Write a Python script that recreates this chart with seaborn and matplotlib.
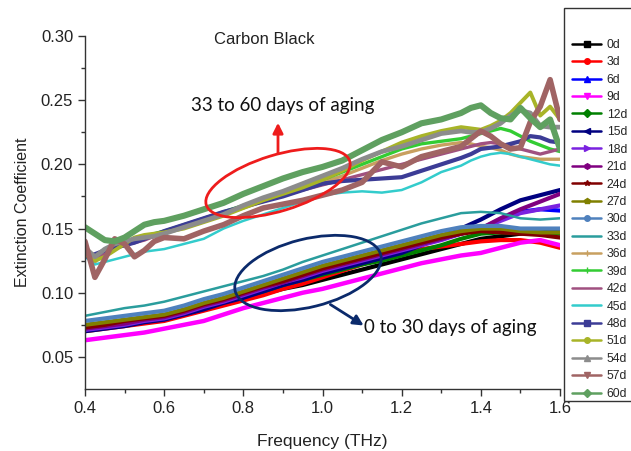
import numpy as np
import pandas as pd
import seaborn as sns
import matplotlib
matplotlib.use("Agg")
import matplotlib.pyplot as plt
from matplotlib.patches import Ellipse, Rectangle
from matplotlib.lines import Line2D

# ---------------- data ----------------
freq_low = [0.40, 0.45, 0.50, 0.55, 0.60, 0.65, 0.70, 0.75, 0.80, 0.85, 0.90, 0.95,
            1.00, 1.05, 1.10, 1.15, 1.20, 1.25, 1.30, 1.35, 1.40, 1.45, 1.50, 1.55, 1.60]

ext_0d = [0.072, 0.074, 0.076, 0.078, 0.080, 0.084, 0.087, 0.091, 0.095, 0.099, 0.103, 0.106,
          0.110, 0.114, 0.118, 0.122, 0.126, 0.130, 0.134, 0.138, 0.142, 0.144, 0.146, 0.147, 0.148]
ext_3d = [0.070, 0.072, 0.074, 0.076, 0.078, 0.082, 0.086, 0.090, 0.094, 0.098, 0.103, 0.107,
          0.112, 0.117, 0.122, 0.127, 0.132, 0.134, 0.136, 0.138, 0.140, 0.141, 0.141, 0.139, 0.135]
ext_6d = [0.073, 0.075, 0.077, 0.079, 0.081, 0.085, 0.089, 0.094, 0.098, 0.103, 0.107, 0.112,
          0.116, 0.121, 0.125, 0.130, 0.134, 0.138, 0.142, 0.146, 0.150, 0.157, 0.163, 0.165, 0.164]
ext_9d = [0.063, 0.065, 0.067, 0.069, 0.072, 0.075, 0.078, 0.083, 0.088, 0.092, 0.096, 0.100,
          0.103, 0.107, 0.111, 0.115, 0.119, 0.123, 0.126, 0.129, 0.131, 0.135, 0.139, 0.141, 0.137]
ext_12d = [0.072, 0.074, 0.076, 0.078, 0.080, 0.084, 0.088, 0.093, 0.097, 0.101, 0.106, 0.110,
           0.114, 0.118, 0.122, 0.125, 0.129, 0.133, 0.137, 0.142, 0.146, 0.147, 0.147, 0.146, 0.146]
ext_15d = [0.070, 0.072, 0.074, 0.077, 0.079, 0.083, 0.087, 0.092, 0.096, 0.101, 0.106, 0.110,
           0.115, 0.119, 0.123, 0.127, 0.131, 0.137, 0.144, 0.150, 0.157, 0.165, 0.172, 0.176, 0.180]
ext_18d = [0.071, 0.073, 0.075, 0.078, 0.080, 0.084, 0.089, 0.093, 0.098, 0.103, 0.108, 0.112,
           0.117, 0.121, 0.125, 0.129, 0.133, 0.137, 0.141, 0.146, 0.150, 0.156, 0.162, 0.165, 0.168]
ext_21d = [0.072, 0.074, 0.076, 0.079, 0.081, 0.085, 0.090, 0.094, 0.099, 0.104, 0.108, 0.113,
           0.118, 0.122, 0.126, 0.130, 0.134, 0.138, 0.142, 0.146, 0.150, 0.158, 0.165, 0.171, 0.177]
ext_24d = [0.073, 0.075, 0.078, 0.080, 0.082, 0.086, 0.091, 0.095, 0.100, 0.105, 0.109, 0.114,
           0.119, 0.123, 0.127, 0.131, 0.135, 0.139, 0.143, 0.146, 0.148, 0.147, 0.146, 0.145, 0.143]
ext_27d = [0.075, 0.077, 0.079, 0.081, 0.083, 0.087, 0.092, 0.096, 0.101, 0.106, 0.111, 0.116,
           0.121, 0.125, 0.129, 0.133, 0.137, 0.141, 0.145, 0.148, 0.150, 0.150, 0.148, 0.147, 0.147]
ext_30d = [0.078, 0.080, 0.082, 0.084, 0.086, 0.090, 0.095, 0.099, 0.104, 0.109, 0.114, 0.119,
           0.124, 0.128, 0.132, 0.136, 0.140, 0.144, 0.148, 0.151, 0.152, 0.152, 0.150, 0.150, 0.150]
ext_33d = [0.082, 0.085, 0.088, 0.090, 0.093, 0.097, 0.101, 0.105, 0.109, 0.113, 0.118, 0.124,
           0.129, 0.134, 0.139, 0.144, 0.149, 0.154, 0.158, 0.162, 0.163, 0.162, 0.158, 0.157, 0.158]

freq_high = [0.400, 0.425, 0.450, 0.475, 0.500, 0.525, 0.550, 0.575, 0.600, 0.65, 0.70, 0.75,
             0.80, 0.85, 0.90, 0.95, 1.00, 1.05, 1.10, 1.15, 1.20, 1.25, 1.30, 1.35,
             1.375, 1.40, 1.425, 1.45, 1.475, 1.50, 1.525, 1.55, 1.575, 1.60]

ext_36d = [0.131, 0.124, 0.130, 0.134, 0.137, 0.140, 0.142, 0.144, 0.146, 0.151, 0.156, 0.161,
           0.166, 0.171, 0.176, 0.181, 0.186, 0.191, 0.197, 0.203, 0.208, 0.212, 0.215, 0.217,
           0.216, 0.214, 0.213, 0.211, 0.208, 0.206, 0.205, 0.204, 0.204, 0.204]
ext_39d = [0.132, 0.127, 0.132, 0.136, 0.139, 0.142, 0.144, 0.146, 0.148, 0.153, 0.158, 0.163,
           0.168, 0.173, 0.178, 0.183, 0.188, 0.194, 0.200, 0.206, 0.212, 0.216, 0.218, 0.220,
           0.222, 0.224, 0.226, 0.228, 0.226, 0.222, 0.218, 0.215, 0.212, 0.210]
ext_42d = [0.130, 0.125, 0.131, 0.135, 0.137, 0.139, 0.141, 0.144, 0.147, 0.152, 0.157, 0.162,
           0.167, 0.172, 0.176, 0.180, 0.184, 0.188, 0.192, 0.196, 0.200, 0.204, 0.208, 0.212,
           0.214, 0.216, 0.217, 0.216, 0.214, 0.212, 0.210, 0.208, 0.210, 0.212]
ext_45d = [0.128, 0.122, 0.124, 0.126, 0.128, 0.130, 0.132, 0.133, 0.134, 0.138, 0.142, 0.150,
           0.156, 0.161, 0.166, 0.171, 0.176, 0.178, 0.179, 0.178, 0.180, 0.186, 0.194, 0.199,
           0.203, 0.206, 0.208, 0.209, 0.208, 0.206, 0.204, 0.202, 0.200, 0.199]
ext_48d = [0.128, 0.130, 0.133, 0.135, 0.137, 0.139, 0.142, 0.145, 0.148, 0.153, 0.158, 0.163,
           0.167, 0.171, 0.175, 0.180, 0.185, 0.187, 0.188, 0.189, 0.190, 0.195, 0.200, 0.205,
           0.208, 0.212, 0.213, 0.214, 0.216, 0.218, 0.222, 0.221, 0.218, 0.217]
ext_51d = [0.130, 0.125, 0.128, 0.133, 0.138, 0.143, 0.145, 0.146, 0.147, 0.150, 0.155, 0.160,
           0.166, 0.172, 0.177, 0.182, 0.188, 0.195, 0.203, 0.210, 0.217, 0.222, 0.226, 0.229,
           0.228, 0.227, 0.230, 0.234, 0.240, 0.248, 0.256, 0.238, 0.245, 0.235]
ext_54d = [0.135, 0.128, 0.134, 0.138, 0.140, 0.142, 0.143, 0.144, 0.146, 0.151, 0.156, 0.161,
           0.168, 0.174, 0.179, 0.185, 0.191, 0.197, 0.204, 0.210, 0.214, 0.219, 0.224, 0.226,
           0.225, 0.225, 0.228, 0.232, 0.238, 0.242, 0.240, 0.230, 0.229, 0.229]
ext_57d = [0.140, 0.112, 0.126, 0.142, 0.138, 0.128, 0.133, 0.140, 0.143, 0.142, 0.148, 0.153,
           0.160, 0.166, 0.169, 0.172, 0.176, 0.180, 0.186, 0.202, 0.198, 0.206, 0.210, 0.214,
           0.220, 0.226, 0.222, 0.216, 0.212, 0.213, 0.233, 0.245, 0.266, 0.235]
ext_60d = [0.151, 0.146, 0.141, 0.140, 0.143, 0.148, 0.153, 0.155, 0.156, 0.160, 0.165, 0.170,
           0.177, 0.183, 0.189, 0.194, 0.198, 0.203, 0.211, 0.219, 0.225, 0.232, 0.235, 0.240,
           0.244, 0.246, 0.240, 0.236, 0.235, 0.244, 0.236, 0.229, 0.235, 0.212]

labels = ["0d", "3d", "6d", "9d", "12d", "15d", "18d", "21d", "24d", "27d", "30d",
          "33d", "36d", "39d", "42d", "45d", "48d", "51d", "54d", "57d", "60d"]
series = [ext_0d, ext_3d, ext_6d, ext_9d, ext_12d, ext_15d, ext_18d, ext_21d, ext_24d,
          ext_27d, ext_30d, ext_33d, ext_36d, ext_39d, ext_42d, ext_45d, ext_48d, ext_51d,
          ext_54d, ext_57d, ext_60d]

# ---------------- style ----------------
colors = ["#000000", "#FF0000", "#0000FF", "#FF00FF", "#008000", "#000080", "#7A22E0",
          "#800080", "#800000", "#808000", "#4F81BD", "#2A9D9D", "#C8A060", "#33CC33",
          "#A05080", "#33CCCC", "#3C3C96", "#A8B428", "#8C8C8C", "#A06464", "#5FA060"]
markers = ["s", "o", "^", "v", "D", "<", ">", "h", "*", "p", "o", None, "+", "+", None,
           None, "s", "o", "^", "v", "D"]
widths = [3.0, 3.0, 3.0, 3.2, 3.0, 3.0, 3.0, 3.0, 3.0, 3.0, 3.0, 1.8, 2.4, 2.4, 2.4,
          1.8, 3.0, 2.8, 3.4, 4.0, 4.4]

sns.set_theme(style="ticks")
plt.rcParams["font.family"] = ["Liberation Sans", "DejaVu Sans"]

fig = plt.figure(figsize=(6.31, 4.51), dpi=100)
ax = fig.add_axes([85 / 631, 62 / 451, 475 / 631, 353 / 451])

rows = []
for lab, vals in zip(labels, series):
    fr = freq_low if len(vals) == len(freq_low) else freq_high
    for f, v in zip(fr, vals):
        rows.append((lab, f, v))
df = pd.DataFrame(rows, columns=["age", "freq", "ext"])

for lab, col, lw in zip(labels, colors, widths):
    sub = df[df["age"] == lab]
    sns.lineplot(data=sub, x="freq", y="ext", color=col, linewidth=lw, ax=ax,
                 sort=False, legend=False, estimator=None)

ax.set_xlim(0.4, 1.6)
ax.set_ylim(0.025, 0.30)
ax.set_xticks([0.4, 0.6, 0.8, 1.0, 1.2, 1.4, 1.6])
ax.set_xticks([0.5, 0.7, 0.9, 1.1, 1.3, 1.5], minor=True)
ax.set_yticks([0.05, 0.10, 0.15, 0.20, 0.25, 0.30])
ax.set_yticks([0.075, 0.125, 0.175, 0.225, 0.275], minor=True)
ax.xaxis.set_major_formatter(matplotlib.ticker.FormatStrFormatter("%.1f"))
ax.yaxis.set_major_formatter(matplotlib.ticker.FormatStrFormatter("%.2f"))
ax.tick_params(axis="both", which="major", direction="out", length=5, width=1,
               labelsize=12, color="#333333", labelcolor="#222222")
ax.tick_params(axis="both", which="minor", direction="out", length=3, width=1,
               color="#333333")
for s in ["top", "right"]:
    ax.spines[s].set_visible(False)
for s in ["left", "bottom"]:
    ax.spines[s].set_color("#333333")
    ax.spines[s].set_linewidth(1.0)

ax.set_xlabel("Frequency (THz)", fontsize=12.5, color="#222222", labelpad=13)
ax.set_ylabel("Extinction Coefficient", fontsize=11.5, color="#222222", labelpad=8)

# legend (frame drawn separately, as in the reference it extends past the image top)
handles = [Line2D([0], [0], color=c, lw=1.8, marker=m, markersize=4,
                  markeredgewidth=1.0) for c, m in zip(colors, markers)]
leg = fig.legend(handles, labels, loc="upper left",
                 bbox_to_anchor=(572 / 631, 1 - 39 / 451), frameon=False,
                 fontsize=8.8, handlelength=2.4, handletextpad=0.45,
                 labelspacing=0.445, borderpad=0.0, borderaxespad=0.0)
frame = Rectangle((564, 451 - 401), 200, 393, transform=None, fill=False,
                  edgecolor="#333333", lw=1.0)
fig.add_artist(frame)

# annotations
fig.text(264 / 631, 1 - 40 / 451, "Carbon Black", ha="center", va="center",
         fontsize=12, color="#222222")

ell_red = Ellipse((2.78, (451 - 183) / 100), 1.50, 0.56, angle=17,
                  transform=fig.dpi_scale_trans, fill=False, edgecolor="#EE1C1C", lw=2.0)
fig.add_artist(ell_red)
ax.annotate("", xy=(278, 451 - 120), xytext=(278, 451 - 156), xycoords="figure pixels",
            textcoords="figure pixels",
            arrowprops=dict(arrowstyle="-|>,head_length=0.5,head_width=0.25",
                            color="#EE1C1C", lw=2.0))
fig.text(283 / 631, 1 - 105 / 451, "33 to 60 days of aging", ha="center", va="center",
         fontsize=13.5, family=["Lato", "DejaVu Sans"], color="#111111")

ell_blue = Ellipse((3.08, (451 - 273) / 100), 1.50, 0.68, angle=14,
                   transform=fig.dpi_scale_trans, fill=False, edgecolor="#0B2A6B", lw=2.0)
fig.add_artist(ell_blue)
ax.annotate("", xy=(366, 451 - 327), xytext=(328, 451 - 303), xycoords="figure pixels",
            textcoords="figure pixels",
            arrowprops=dict(arrowstyle="-|>,head_length=0.5,head_width=0.25",
                            color="#0B2A6B", lw=2.0))
fig.text(364 / 631, 1 - 327 / 451, "0 to 30 days of aging", ha="left", va="center",
         fontsize=13.5, family=["Lato", "DejaVu Sans"], color="#111111")

fig.savefig("out.png", dpi=100)
